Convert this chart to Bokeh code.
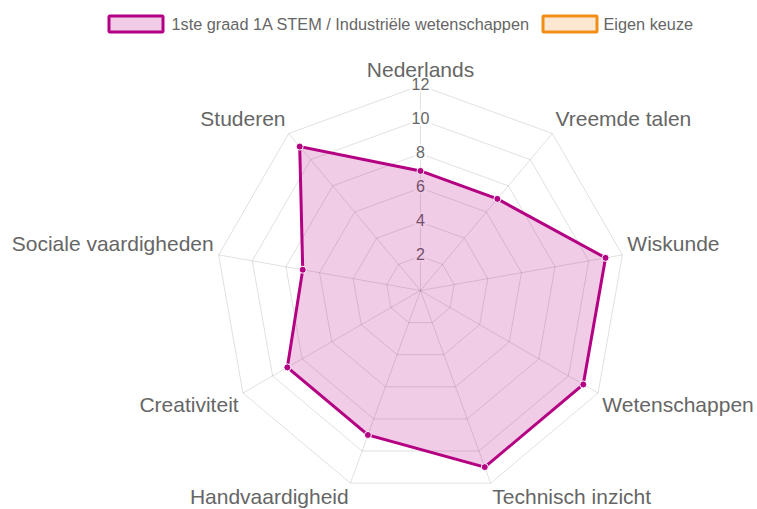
import math
from bokeh.plotting import figure
from bokeh.models import Range1d
from bokeh.embed import file_html
from bokeh.resources import INLINE
from bokeh.core.properties import value

# ---------------- data ----------------
categories = ["Nederlands", "Vreemde talen", "Wiskunde", "Wetenschappen",
              "Technisch inzicht", "Handvaardigheid", "Creativiteit",
              "Sociale vaardigheden", "Studeren"]
stem_values = [7, 7, 11, 11, 11, 9, 9, 7, 11]
eigen_values = []  # no data for "Eigen keuze"
tick_values = [2, 4, 6, 8, 10, 12]
tick_labels = ["2", "4", "6", "8", "10", "12"]
series_names = ["1ste graad 1A STEM / Industriële wetenschappen", "Eigen keuze"]

# ---------------- styling / layout ----------------
W, H = 757, 509
CX, CY = 420, 290          # pixel centre of the radar
R_PX = 205                 # pixel radius of scale max
VMAX = 12
S = R_PX / VMAX            # pixels per value unit

STEM_LINE = "rgb(180,0,130)"
EIGEN_LINE = "rgb(240,142,24)"
GRID = "rgba(0,0,0,0.12)"
LABEL = "#666666"
FONT = "Liberation Sans"


def X(px):
    return (px - CX) / S


def Y(py):
    return (CY - py) / S


p = figure(width=W, height=H, output_backend="svg", toolbar_location=None,
           x_range=Range1d(X(0), X(W)), y_range=Range1d(Y(H), Y(0)),
           x_axis_location=None, y_axis_location=None, min_border=0,
           outline_line_color=None, background_fill_color="white",
           border_fill_color="white")
p.grid.visible = False

n = len(categories)
angles = [2 * math.pi * i / n for i in range(n)]


def pt(r, a):
    return r * math.sin(a), r * math.cos(a)


# grid polygons
gx, gy = [], []
for t in tick_values:
    xs = [pt(t, a)[0] for a in angles] + [pt(t, angles[0])[0]]
    ys = [pt(t, a)[1] for a in angles] + [pt(t, angles[0])[1]]
    gx.append(xs)
    gy.append(ys)
p.multi_line(gx, gy, line_color=GRID, line_width=1)

# spokes
sx = [[0, pt(VMAX, a)[0]] for a in angles]
sy = [[0, pt(VMAX, a)[1]] for a in angles]
p.multi_line(sx, sy, line_color=GRID, line_width=1)

# tick labels with backdrop
p.text(x=[0] * len(tick_values), y=[t + 2 / S for t in tick_values],
       text=tick_labels,
       text_font=value(FONT), text_font_size="16px", text_color=LABEL,
       text_align="center", text_baseline="middle",
       background_fill_color="white", background_fill_alpha=0.75,
       padding=2)

# data series
dxs = [pt(v, a)[0] for v, a in zip(stem_values, angles)]
dys = [pt(v, a)[1] for v, a in zip(stem_values, angles)]
p.patch(dxs, dys, fill_color=STEM_LINE, fill_alpha=0.2,
        line_color=STEM_LINE, line_width=3, line_join="miter")
p.scatter(dxs, dys, size=7, fill_color=STEM_LINE, line_color="white",
          line_width=1)

# point labels
lr = (R_PX + 5) / S
for cat, a in zip(categories, angles):
    x, y = pt(lr, a)
    deg = math.degrees(a) % 360
    if abs(deg) < 1e-6 or abs(deg - 180) < 1e-6:
        align = "center"
    elif deg < 180:
        align = "left"
    else:
        align = "right"
    if deg < 90 or deg > 270:
        y += 11 / S
    else:
        y -= 9 / S
    p.text(x=[x], y=[y], text=[cat], text_font=value(FONT),
           text_font_size="21px", text_color=LABEL,
           text_align=align, text_baseline="middle")

# legend (manual, Chart.js style)
leg = [(series_names[0], STEM_LINE, 108.5, 171),
       (series_names[1], EIGEN_LINE, 542.5, 603)]
for name, col, bx, tx in leg:
    p.quad(left=[X(bx)], right=[X(bx + 54)], top=[Y(15.5)], bottom=[Y(31.5)],
           fill_color=col, fill_alpha=0.2, line_color=col, line_width=3)
    p.text(x=[X(tx)], y=[Y(23.5)], text=[name], text_font=value(FONT),
           text_font_size="16.3px", text_color=LABEL,
           text_align="left", text_baseline="middle")

open("out.html", "w").write(file_html(p, INLINE))
